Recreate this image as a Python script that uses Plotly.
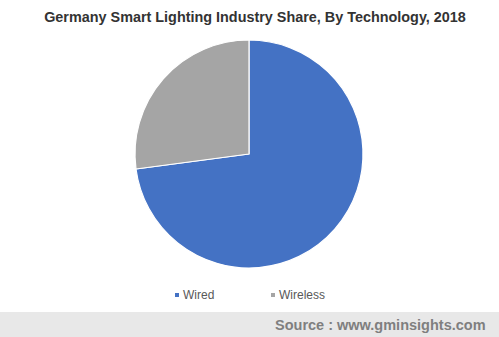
import plotly.graph_objects as go

labels = ["Wired", "Wireless"]
values = [72.9, 27.1]
colors = ["#4472C4", "#A5A5A5"]

W, H = 499, 337
fig = go.Figure()
fig.add_trace(go.Pie(
    labels=labels, values=values, sort=False, direction="clockwise", rotation=0,
    marker=dict(colors=colors, line=dict(color="white", width=1.2)),
    textinfo="none", hoverinfo="label+percent", showlegend=False,
    domain=dict(x=[135/W, 363/W], y=[(H-268)/H, (H-40)/H]),
))

# custom legend (small square markers close to labels)
legend_x = [177, 273]
legend_y = 295
shapes = [dict(type="rect", xref="paper", yref="paper", x0=0, x1=1, y0=0, y1=25/H,
               fillcolor="#E8E8E8", line=dict(width=0), layer="below")]
annotations = []
for lab, col, lx in zip(labels, colors, legend_x):
    shapes.append(dict(type="rect", xref="paper", yref="paper",
                       x0=(lx-2)/W, x1=(lx+2)/W, y0=(H-legend_y-2)/H, y1=(H-legend_y+2)/H,
                       fillcolor=col, line=dict(width=0)))
    annotations.append(dict(text=lab, xref="paper", yref="paper", x=(lx+4)/W, xanchor="left",
                            y=(H-legend_y)/H, yanchor="middle", showarrow=False,
                            font=dict(family="Liberation Sans, Arial", size=12, color="#595959")))
annotations.append(dict(text="<b>Source : www.gminsights.com</b>", xref="paper", yref="paper",
                        x=488/W, xanchor="right", y=12.5/H, yanchor="middle", showarrow=False,
                        font=dict(family="Liberation Sans, Arial", size=14.5, color="#7F7F7F")))

fig.update_layout(
    width=W, height=H, margin=dict(l=0, r=0, t=0, b=0),
    paper_bgcolor="white", plot_bgcolor="white",
    title=dict(text="<b>Germany Smart Lighting Industry Share, By Technology, 2018</b>",
               x=255/W, xanchor="center", y=1-17/H, yanchor="middle",
               font=dict(family="Liberation Sans, Arial", size=14.4, color="#333333")),
    shapes=shapes, annotations=annotations,
)
fig.write_html("out.html")
